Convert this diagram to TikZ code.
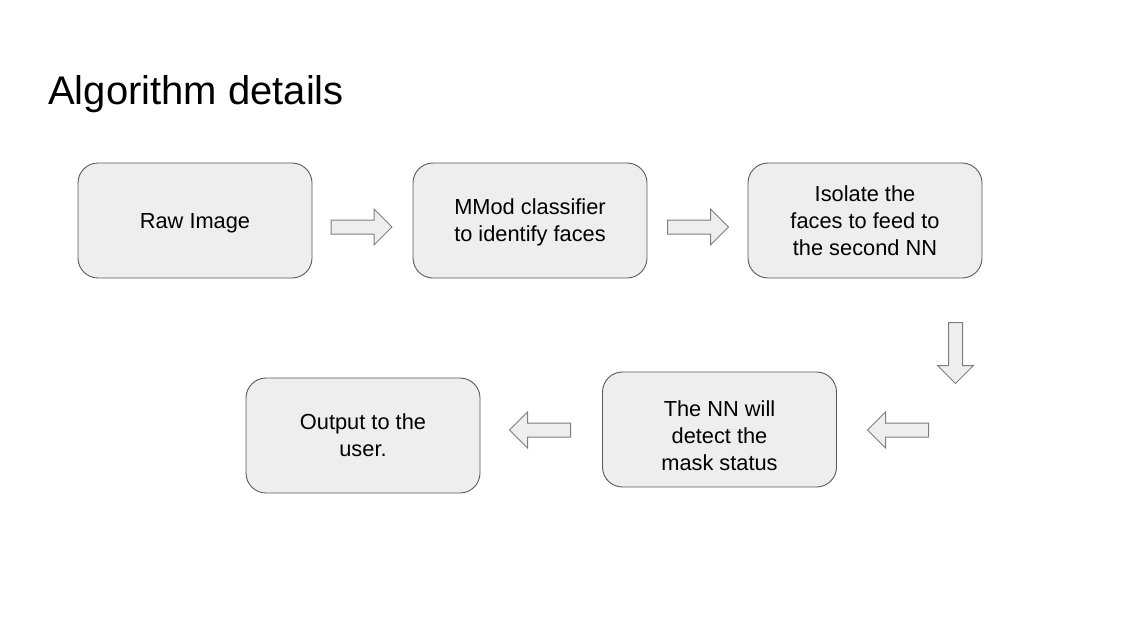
\documentclass[tikz,border=0pt]{standalone}
\usepackage{fontspec}
\setmainfont{Liberation Sans}
\usepackage{xcolor}
\usetikzlibrary{shapes.arrows}

\definecolor{boxfill}{HTML}{EEEEEE}
\definecolor{boxline}{HTML}{595959}
\definecolor{arrline}{HTML}{7F7F7F}

\begin{document}
\begin{tikzpicture}[x=1pt,y=-1pt]
	\tikzstyle{stepbox}=[draw=boxline, fill=boxfill, rounded corners=20pt, line width=0.9pt,
		minimum width=234pt, minimum height=115pt, align=center, text depth=-1pt,
		font=\fontsize{21.8}{27}\selectfont]
	\tikzstyle{blockarrow}=[draw=arrline, fill=boxfill, line width=1pt, shape=single arrow,
		single arrow head extend=11pt, inner sep=6.5pt, minimum height=61pt,
		single arrow tip angle=90]
	\useasboundingbox (0,0) rectangle (1135,635);
	\node[anchor=base west, inner sep=0pt, font=\fontsize{40}{44}\selectfont] (title) at (48,104) {Algorithm details};
	% top row
	\node[stepbox] (raw) at (195,220.5) {Raw Image};
	\node[stepbox] (mmod) at (530,220.5) {MMod classifier\\to identify faces};
	\node[stepbox] (isolate) at (865,220.5) {Isolate the\\faces to feed to\\the second NN};
	% bottom row
	\node[stepbox, text height=81pt] (detect) at (719.5,429.5) {The NN will\\detect the\\mask status};
	\node[stepbox] (output) at (363,435.5) {Output to the\\user.};
	% arrows
	\node[blockarrow] (a1) at (358,227) {};
	\node[blockarrow] (a2) at (694.5,227) {};
	\node[blockarrow, shape border rotate=270] (a3) at (955.5,349.5) {};
	\node[blockarrow, shape border rotate=180] (a4) at (901.5,430) {};
	\node[blockarrow, shape border rotate=180] (a5) at (543.5,430) {};
\end{tikzpicture}
\end{document}
